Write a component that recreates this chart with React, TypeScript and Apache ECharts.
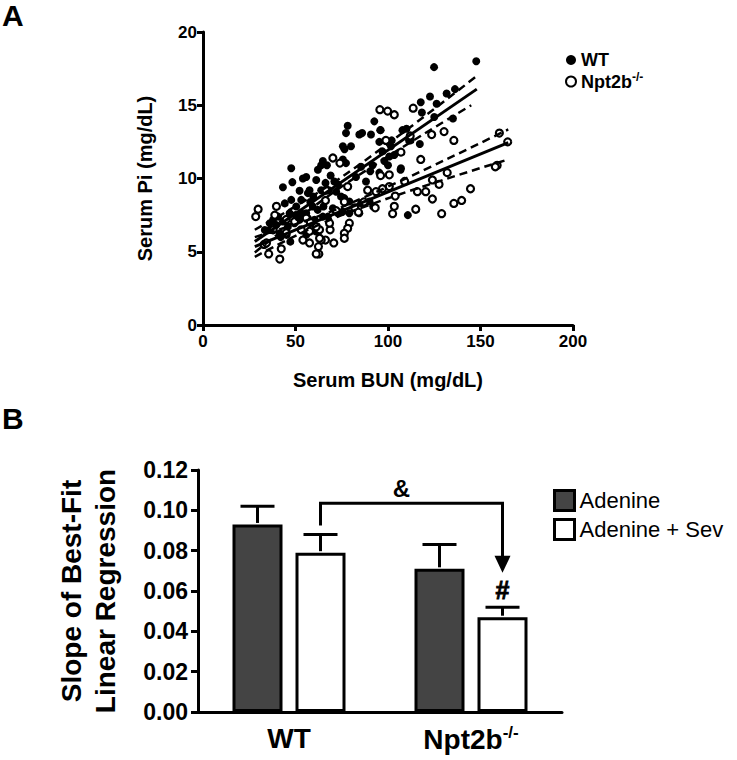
import React, { useEffect, useRef } from "react";
import * as echarts from "echarts";

const FONT = "'Liberation Sans', Arial, Helvetica, sans-serif";

// Panel A: Serum BUN (x) vs Serum Pi (y)
const wtPoints: number[][] = [
  [147.7, 18.0], [124.9, 17.6], [122.7, 15.6], [117.7, 15.2], [126.3, 15.1], [131.7, 15.8], [136.2, 16.1],
  [135.1, 14.1], [118.3, 14.5], [125, 14.2], [92.6, 13.9], [95.8, 13.3], [78.2, 13.6], [77.3, 13.1],
  [84.5, 13.0], [86, 13.1], [90.8, 13.0], [75.6, 12.2], [80, 12.2], [76.5, 12.0], [107.8, 13.3], [110, 13.4],
  [111.4, 12.6], [117.2, 12.35], [95.3, 12.5], [98.5, 12.6], [101.6, 12.2], [97, 11.85], [100.7, 11.5],
  [103.4, 11.6], [98, 11.2], [100, 10.9], [107, 10.7], [91.7, 10.9], [90.4, 10.5], [95.3, 10.4], [85.4, 10.8],
  [82.7, 10.1], [88.1, 9.8], [75.6, 11.3], [77.3, 11.05], [71, 9.8], [64.8, 11.2], [63.9, 10.9], [62.1, 10.6],
  [61.2, 9.9], [66.2, 9.7], [55.8, 10.1], [54, 10.0], [47.7, 10.7], [48.3, 9.75], [43.2, 9.4], [52.2, 9.16],
  [57.6, 9.2], [44.2, 8.3], [47.7, 8.54], [53.1, 8.54], [56.7, 9.0], [59.6, 8.77], [63.9, 9.2], [68, 9.2],
  [72, 9.1], [72.9, 9.6], [74.6, 8.77], [76.4, 8.66], [79.1, 8.43], [85.4, 8.3], [90, 8.43], [84.5, 7.63],
  [92, 8.09], [50.4, 8.09], [53.1, 7.63], [55.8, 7.63], [59.3, 8.09], [62, 7.86], [65.1, 8.09], [70.2, 7.97],
  [72.9, 7.63], [75.5, 7.74], [79.1, 7.63], [46.8, 7.63], [40.6, 7.4], [37.9, 7.18], [36.1, 6.95], [39.6, 6.83],
  [43.2, 7.06], [45.9, 6.72], [49.5, 6.95], [52.2, 7.18], [56.7, 7.29], [60.3, 7.18], [64.8, 7.4], [67.5, 7.4],
  [36.1, 6.49], [41.5, 6.26], [45.2, 6.15], [47.2, 5.69], [53.1, 6.49], [55.8, 6.15], [61.2, 6.38], [33.4, 6.49],
  [110.7, 7.5], [106.8, 10.6], [112.2, 12.6], [96, 13.3], [102, 12.6], [69, 10.2], [67, 10.9], [58, 8.4],
  [50, 7.5], [42, 6.0],
];

const koPoints: number[][] = [
  [160.2, 13.1], [164.7, 12.5], [159, 10.9], [158, 10.8], [144.6, 9.3], [139.8, 8.5], [135.6, 8.3], [135.6, 12.6],
  [130.3, 13.2], [123.6, 13.0], [113.6, 14.8], [95.6, 14.7], [99.8, 14.6], [103.4, 14.35], [132, 10.4],
  [127.6, 9.6], [124, 9.9], [124, 8.6], [120.4, 9.1], [115.9, 9.1], [129, 7.6], [115, 7.9], [117.7, 11.3],
  [98.9, 12.6], [100.7, 10.25], [103.9, 8.8], [103.4, 8.1], [102.5, 7.6], [100.7, 9.45], [97, 9.3], [93.5, 9.1],
  [93.1, 8.0], [89, 9.2], [70.2, 11.4], [74, 11.05], [78.2, 9.45], [76.4, 8.4], [79.1, 6.95], [78.2, 6.6],
  [76.4, 6.26], [76.4, 5.92], [70.7, 5.6], [66.2, 5.8], [63.9, 5.8], [63, 6.5], [68.7, 6.5], [68.4, 6.95],
  [66.2, 8.5], [62.6, 4.85], [61.2, 4.85], [62.4, 5.35], [63, 5.92], [57.6, 5.6], [57.6, 6.4], [54, 5.8],
  [53.1, 6.5], [55.8, 7.3], [41.5, 4.5], [42.3, 5.2], [35.5, 4.85], [33, 5.5], [34.3, 5.6], [29.8, 7.9],
  [28.5, 7.4], [39.7, 8.1], [38.8, 7.5], [37.9, 6.5], [61.2, 6.7], [49.5, 7.06], [66.5, 9.2], [45, 7.2],
  [58, 7.0], [72, 7.8], [82, 8.0], [87, 8.4], [107, 11.8], [112, 12.9], [109, 9.8], [96, 10.2], [45, 6.3],
  [84, 7.7],
];

const wtFit = [[28, 5.7], [148, 16.1]];
const wtUpper = [[28, 6.5], [75, 10.1], [148, 17.0]];
const wtLower = [[28, 4.95], [75, 9.45], [145, 15.0]];
const koFit = [[28, 5.35], [165, 12.45]];
const koUpper = [[28, 6.0], [75, 8.05], [165, 13.35]];
const koLower = [[28, 4.65], [75, 7.5], [165, 11.3]];

// Panel B
const groups = ["WT", "Npt2b-/-"];
const adenine = [0.093, 0.071];
const adenineErr = [0.009, 0.012];
const adenineSev = [0.079, 0.047];
const adenineSevErr = [0.009, 0.005];

const bracketStart = 0.0925;
const bracketTop = 0.1035;
const arrowTip = 0.069;
const ampY = 0.111;
const hashY = 0.0605;

const BAR_W = 50;
const BAR_GAP_PX = 13;
const OFFSET = (BAR_W + BAR_GAP_PX) / 2;

export default function App() {
  const ref = useRef<HTMLDivElement>(null);
  useEffect(() => {
    if (!ref.current) return;
    const chart = echarts.init(ref.current, null, { renderer: "svg" });

    const dashed = { color: "#000", width: 2.5, type: [8, 5] as any };
    const solid = { color: "#000", width: 3 };
    const mkAxisLine = () => ({ show: true, onZero: false, lineStyle: { color: "#000", width: 3 } });
    const mkTick = (len: number) => ({ show: true, inside: false, length: len, lineStyle: { color: "#000", width: 3 } });

    const errData: number[][] = [];
    groups.forEach((_, i) => {
      errData.push([i, adenine[i], adenineErr[i], -1]);
      errData.push([i, adenineSev[i], adenineSevErr[i], 1]);
    });

    const option: any = {
      animation: false,
      backgroundColor: "#fff",
      textStyle: { fontFamily: FONT },
      grid: [
        { left: 203, top: 32, width: 370, height: 293 },
        { left: 198, top: 470, width: 364, height: 242 },
      ],
      legend: [
        {
          data: ["WT", "Npt2b-/-"],
          left: 560,
          top: 46,
          orient: "vertical",
          icon: "circle",
          itemWidth: 10,
          itemHeight: 10,
          itemGap: 2,
          selectedMode: false,
          formatter: (n: string) => (n === "Npt2b-/-" ? "Npt2b{sup|-/-}" : n),
          textStyle: {
            fontFamily: FONT,
            fontWeight: "bold",
            fontSize: 18,
            color: "#000",
            rich: { sup: { fontFamily: FONT, fontWeight: "bold", fontSize: 12, padding: [0, 0, 9, 0] } },
          },
        },
        {
          data: ["Adenine", "Adenine + Sev"],
          left: 548,
          top: 484,
          orient: "vertical",
          icon: "rect",
          itemWidth: 20,
          itemHeight: 20,
          itemGap: 6,
          selectedMode: false,
          itemStyle: { borderColor: "#000", borderWidth: 3 },
          textStyle: { fontFamily: FONT, fontSize: 22, color: "#000" },
        },
      ],
      xAxis: [
        {
          type: "value",
          gridIndex: 0,
          min: 0,
          max: 200,
          interval: 50,
          splitLine: { show: false },
          axisLine: mkAxisLine(),
          axisTick: mkTick(6),
          axisLabel: { color: "#000", fontFamily: FONT, fontWeight: "bold", fontSize: 17, margin: 8 },
          name: "Serum BUN (mg/dL)",
          nameLocation: "middle",
          nameGap: 45,
          nameTextStyle: { color: "#000", fontFamily: FONT, fontWeight: "bold", fontSize: 20 },
        },
        {
          type: "category",
          gridIndex: 1,
          data: groups,
          axisLine: mkAxisLine(),
          axisTick: { show: false },
          axisLabel: {
            interval: 0,
            color: "#000",
            fontFamily: FONT,
            fontWeight: "bold",
            fontSize: 28,
            margin: 12,
            formatter: (v: string) => (v === "Npt2b-/-" ? "Npt2b{sup|-/-}" : v),
            rich: { sup: { fontFamily: FONT, fontWeight: "bold", fontSize: 17, color: "#000", padding: [0, 0, 14, 0] } },
          },
        },
      ],
      yAxis: [
        {
          type: "value",
          gridIndex: 0,
          min: 0,
          max: 20,
          interval: 5,
          splitLine: { show: false },
          axisLine: mkAxisLine(),
          axisTick: mkTick(6),
          axisLabel: { color: "#000", fontFamily: FONT, fontWeight: "bold", fontSize: 17, margin: 6 },
          name: "Serum Pi (mg/dL)",
          nameLocation: "middle",
          nameRotate: 90,
          nameGap: 46,
          nameTextStyle: { color: "#000", fontFamily: FONT, fontWeight: "bold", fontSize: 20, lineHeight: 24 },
        },
        {
          type: "value",
          gridIndex: 1,
          min: 0,
          max: 0.12,
          interval: 0.02,
          splitLine: { show: false },
          axisLine: mkAxisLine(),
          axisTick: mkTick(7),
          axisLabel: {
            color: "#000",
            fontFamily: FONT,
            fontWeight: "bold",
            fontSize: 23,
            margin: 10,
            formatter: (v: number) => v.toFixed(2),
          },
          name: "Slope of Best-Fit\nLinear Regression",
          nameLocation: "middle",
          nameRotate: 90,
          nameGap: 76,
          nameTextStyle: { color: "#000", fontFamily: FONT, fontWeight: "bold", fontSize: 28, lineHeight: 34 },
        },
      ],
      graphic: [
        { type: "text", left: 2, top: 0, style: { text: "A", font: `bold 30px ${FONT}`, fill: "#000" } },
        { type: "text", left: 2, top: 403, style: { text: "B", font: `bold 30px ${FONT}`, fill: "#000" } },
      ],
      series: [
        {
          name: "WT",
          type: "scatter",
          xAxisIndex: 0,
          yAxisIndex: 0,
          data: wtPoints,
          symbol: "circle",
          symbolSize: 8,
          itemStyle: { color: "#000", opacity: 1 },
          z: 3,
        },
        {
          name: "Npt2b-/-",
          type: "scatter",
          xAxisIndex: 0,
          yAxisIndex: 0,
          data: koPoints,
          symbol: "circle",
          symbolSize: 7,
          itemStyle: { color: "#fff", borderColor: "#000", borderWidth: 2.2, opacity: 1 },
          z: 3,
        },
        ...[
          [wtFit, solid, false],
          [wtUpper, dashed, true],
          [wtLower, dashed, true],
          [koFit, solid, false],
          [koUpper, dashed, true],
          [koLower, dashed, true],
        ].map(([d, ls, sm]: any) => ({
          type: "line",
          xAxisIndex: 0,
          yAxisIndex: 0,
          data: d,
          symbol: "none",
          smooth: sm ? 0.4 : false,
          lineStyle: ls,
          silent: true,
          z: 4,
        })),
        {
          name: "Adenine",
          type: "bar",
          xAxisIndex: 1,
          yAxisIndex: 1,
          data: adenine,
          barWidth: BAR_W,
          barGap: `${(BAR_GAP_PX / BAR_W) * 100}%`,
          itemStyle: { color: "#444444", borderColor: "#000", borderWidth: 3 },
          z: 2,
        },
        {
          name: "Adenine + Sev",
          type: "bar",
          xAxisIndex: 1,
          yAxisIndex: 1,
          data: adenineSev,
          barWidth: BAR_W,
          barGap: `${(BAR_GAP_PX / BAR_W) * 100}%`,
          itemStyle: { color: "#ffffff", borderColor: "#000", borderWidth: 3 },
          z: 2,
        },
        {
          type: "custom",
          xAxisIndex: 1,
          yAxisIndex: 1,
          data: errData,
          encode: { x: 0, y: 1 },
          z: 5,
          silent: true,
          renderItem: (params: any, api: any) => {
            const cat = api.value(0);
            const val = api.value(1);
            const err = api.value(2);
            const side = api.value(3);
            const p0 = api.coord([cat, val]);
            const p1 = api.coord([cat, val + err]);
            const x = p0[0] + side * OFFSET;
            const st = { stroke: "#000", lineWidth: 3 };
            return {
              type: "group",
              children: [
                { type: "line", shape: { x1: x, y1: p0[1] - 1.5, x2: x, y2: p1[1] }, style: st },
                { type: "line", shape: { x1: x - 17, y1: p1[1], x2: x + 17, y2: p1[1] }, style: st },
              ],
            };
          },
        },
        {
          type: "custom",
          xAxisIndex: 1,
          yAxisIndex: 1,
          data: [[0, bracketTop]],
          encode: { x: 0, y: 1 },
          z: 5,
          silent: true,
          renderItem: (params: any, api: any) => {
            const xL = api.coord([0, 0])[0] + OFFSET;
            const xR = api.coord([1, 0])[0] + OFFSET;
            const yS = api.coord([0, bracketStart])[1];
            const yT = api.coord([0, bracketTop])[1];
            const yA = api.coord([0, arrowTip])[1];
            const yAmp = api.coord([0, ampY])[1];
            const yHash = api.coord([0, hashY])[1];
            const st = { stroke: "#000", lineWidth: 3, fill: null };
            return {
              type: "group",
              children: [
                {
                  type: "polyline",
                  shape: { points: [[xL, yS], [xL, yT], [xR, yT], [xR, yA - 14]] },
                  style: st,
                },
                {
                  type: "polygon",
                  shape: { points: [[xR - 8, yA - 17], [xR + 8, yA - 17], [xR, yA]] },
                  style: { fill: "#000" },
                },
                {
                  type: "text",
                  style: {
                    text: "&",
                    x: (xL + xR) / 2 - 10,
                    y: yAmp,
                    align: "center",
                    verticalAlign: "middle",
                    font: `bold 24px ${FONT}`,
                    fill: "#000",
                  },
                },
                {
                  type: "text",
                  style: {
                    text: "#",
                    x: xR,
                    y: yHash,
                    align: "center",
                    verticalAlign: "middle",
                    font: `bold 25px ${FONT}`,
                    fill: "#000",
                    stroke: "#000",
                    lineWidth: 0.8,
                  },
                },
              ],
            };
          },
        },
      ],
    };

    chart.setOption(option);
    return () => chart.dispose();
  }, []);

  return (
    <div
      ref={ref}
      style={{ position: "absolute", left: 0, top: 0, width: 737, height: 760, background: "#fff" }}
    />
  );
}
